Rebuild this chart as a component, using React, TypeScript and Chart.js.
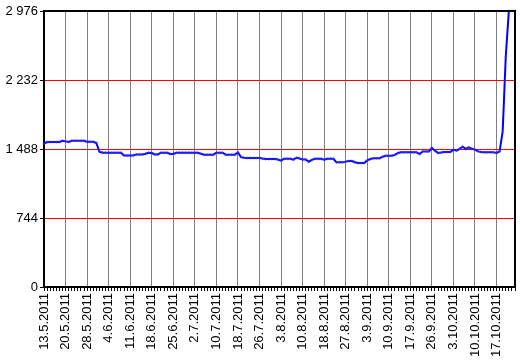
import { useEffect, useRef } from 'react';
import { Chart, registerables } from 'chart.js';

Chart.register(...registerables);

const tickLabels = [
  '13.5.2011', '20.5.2011', '28.5.2011', '4.6.2011', '11.6.2011', '18.6.2011',
  '25.6.2011', '2.7.2011', '10.7.2011', '18.7.2011', '26.7.2011', '3.8.2011',
  '10.8.2011', '18.8.2011', '27.8.2011', '3.9.2011', '10.9.2011', '17.9.2011',
  '26.9.2011', '3.10.2011', '10.10.2011', '17.10.2011',
];

const pointsPerLabel = 7;

const values = [
  1545, 1563, 1563, 1563, 1563, 1563, 1577, 1570, 1563, 1577,
  1577, 1577, 1577, 1577, 1566, 1566, 1566, 1553, 1460, 1448,
  1448, 1448, 1448, 1448, 1448, 1448, 1419, 1419, 1419, 1419,
  1430, 1430, 1430, 1437, 1448, 1445, 1430, 1430, 1448, 1448,
  1448, 1434, 1434, 1448, 1448, 1448, 1448, 1448, 1448, 1448,
  1448, 1437, 1427, 1427, 1427, 1427, 1448, 1448, 1448, 1427,
  1427, 1427, 1427, 1451, 1400, 1394, 1391, 1391, 1391, 1391,
  1391, 1385, 1380, 1380, 1380, 1380, 1375, 1362, 1383, 1383,
  1383, 1373, 1394, 1385, 1376, 1376, 1351, 1370, 1383, 1383,
  1383, 1373, 1383, 1383, 1383, 1344, 1344, 1344, 1352, 1359,
  1359, 1345, 1337, 1337, 1337, 1365, 1380, 1387, 1387, 1387,
  1405, 1416, 1416, 1416, 1425, 1445, 1452, 1452, 1452, 1452,
  1452, 1452, 1434, 1462, 1462, 1462, 1499, 1470, 1445, 1450,
  1456, 1456, 1456, 1481, 1470, 1490, 1513, 1488, 1505, 1490,
  1481, 1462, 1456, 1452, 1452, 1452, 1452, 1445, 1462, 1678,
  2486, 2976, 2976, 2976,
];

const yMax = 2976;
const yStep = 744;
const redLines = [744, 1488, 2232];

const fmt = (v: number) => String(v).replace(/\B(?=(\d{3})+(?!\d))/g, ' ');

const framePlugin = {
  id: 'frame',
  afterDraw(chart: any) {
    const { ctx, chartArea } = chart;
    ctx.save();
    ctx.strokeStyle = '#000';
    ctx.lineWidth = 2;
    ctx.beginPath();
    ctx.moveTo(chartArea.left, chartArea.top);
    ctx.lineTo(chartArea.right, chartArea.top);
    ctx.lineTo(chartArea.right, chartArea.bottom);
    ctx.stroke();
    ctx.restore();
  },
};

export default function App() {
  const ref = useRef<HTMLCanvasElement | null>(null);

  useEffect(() => {
    document.body.style.margin = '0';
    if (!ref.current) return;
    const labels = values.map((_, i) =>
      i % pointsPerLabel === 0 ? tickLabels[i / pointsPerLabel] ?? '' : ''
    );
    const font = { family: '"Liberation Sans", Arial, sans-serif', size: 13 };
    const chart = new Chart(ref.current, {
      type: 'line',
      data: {
        labels,
        datasets: [
          {
            data: values,
            borderColor: '#0000ff',
            borderWidth: 2,
            pointRadius: 1.5,
            pointStyle: 'cross',
            pointBorderColor: 'rgba(60,60,255,0.55)',
            pointBorderWidth: 1,
            tension: 0,
            clip: false as any,
          },
        ],
      },
      plugins: [framePlugin],
      options: {
        animation: false,
        responsive: false,
        layout: { padding: { top: 11, right: 4, left: 0, bottom: 0 } },
        plugins: { legend: { display: false }, tooltip: { enabled: false } },
        scales: {
          x: {
            type: 'category',
            offset: false,
            afterFit: (s: any) => {
              s.height = 73;
              s.paddingLeft = 0;
              s.paddingRight = 0;
            },
            border: { color: '#000', width: 2 },
            grid: {
              color: (c: any) =>
                c.index % pointsPerLabel === 0 && c.index !== 0 ? '#808080' : 'rgba(0,0,0,0)',
              tickColor: '#000',
              tickLength: 4,
              lineWidth: 1,
            },
            ticks: {
              autoSkip: false,
              minRotation: 90,
              maxRotation: 90,
              color: '#000',
              padding: 2,
              font,
            },
          },
          y: {
            min: 0,
            max: yMax,
            afterFit: (s: any) => {
              s.width = 44;
              s.paddingTop = 0;
              s.paddingBottom = 0;
            },
            border: { color: '#000', width: 2 },
            grid: {
              color: (c: any) =>
                redLines.includes(c.tick?.value) ? '#ff0000' : 'rgba(0,0,0,0)',
              tickColor: '#000',
              tickLength: 4,
              lineWidth: 1,
            },
            ticks: {
              stepSize: yStep,
              color: '#000',
              padding: 2,
              font,
              callback: (v: any) => fmt(Number(v)),
            },
          },
        },
      },
    });
    return () => chart.destroy();
  }, []);

  return (
    <div style={{ width: 520, height: 360, background: '#fff' }}>
      <canvas ref={ref} width={520} height={360} style={{ display: 'block' }} />
    </div>
  );
}
